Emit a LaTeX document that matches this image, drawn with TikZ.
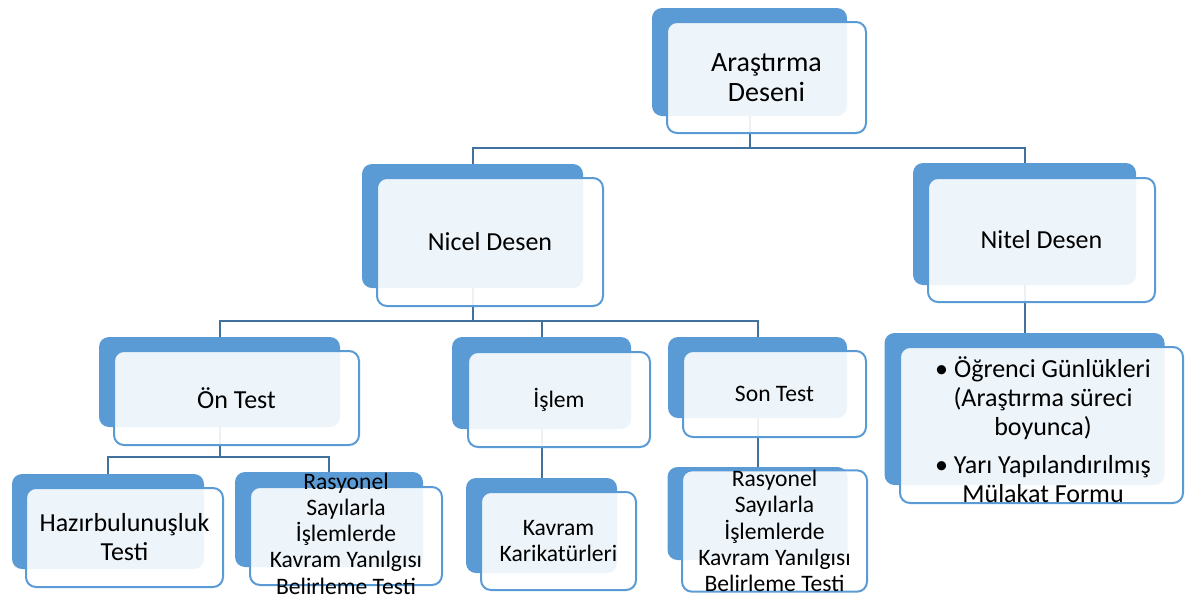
\documentclass[tikz,border=0pt]{standalone}
\usepackage{fontspec}
\setmainfont{Carlito}
\usetikzlibrary{backgrounds}
\definecolor{accent}{HTML}{5B9BD5}
\definecolor{connc}{HTML}{41719C}
\begin{document}
\begin{tikzpicture}[x=1pt,y=-1pt,
  backbox/.style={fill=accent, rounded corners=10pt, inner sep=0pt, outer sep=0pt},
  frontbox/.style={draw=accent, line width=2pt, fill=white, fill opacity=0.9, text opacity=1,
    rounded corners=10pt, inner sep=0pt, outer sep=0pt, align=center, text=black},
  conn/.style={draw=connc, line width=2pt},
  bigtxt/.style={font=\fontsize{28}{30.5}\selectfont},
  midtxt/.style={font=\fontsize{26}{29}\selectfont},
  smalltxt/.style={font=\fontsize{23.6}{26.2}\selectfont}]
\useasboundingbox (0,0) rectangle (1185,598);

% back boxes
\node[backbox, minimum width=195pt, minimum height=108pt] (Ab) at (749.5,62) {};
\node[backbox, minimum width=221pt, minimum height=124pt] (Nb) at (472.5,226) {};
\node[backbox, minimum width=223pt, minimum height=122pt] (Tb) at (1024.5,224) {};
\node[backbox, minimum width=241pt, minimum height=90pt] (Ob) at (219.5,382) {};
\node[backbox, minimum width=179pt, minimum height=92pt] (Ib) at (541.5,383) {};
\node[backbox, minimum width=179pt, minimum height=81pt] (Sb) at (757.5,377.5) {};
\node[backbox, minimum width=192pt, minimum height=95pt] (Hb) at (108,521.5) {};
\node[backbox, minimum width=188pt, minimum height=95pt] (R1b) at (329,519.5) {};
\node[backbox, minimum width=151pt, minimum height=95pt] (Kb) at (541.5,525.5) {};
\node[backbox, minimum width=180pt, minimum height=93pt] (R2b) at (757.5,513.5) {};
\node[backbox, minimum width=280pt, minimum height=152pt] (Lb) at (1024.5,409) {};

% connectors
\begin{scope}[on background layer]
\coordinate (bus1) at (0,148);
\coordinate (bus2) at (0,321);
\coordinate (bus3) at (0,457);
\draw[conn] (Ab.south) -- (Ab.south |- bus1) -| (Nb.north);
\draw[conn] (Ab.south |- bus1) -| (Tb.north);
\draw[conn] (Nb.south) -- (Nb.south |- bus2) -| (Ob.north);
\draw[conn] (Nb.south |- bus2) -| (Ib.north);
\draw[conn] (Nb.south |- bus2) -| (Sb.north);
\draw[conn] (Ob.south) -- (Ob.south |- bus3) -| (Hb.north);
\draw[conn] (Ob.south |- bus3) -| (R1b.north);
\draw[conn] (Ib.south) -- (Kb.north);
\draw[conn] (Sb.south) -- (R2b.north);
\draw[conn] (Tb.south) -- (Lb.north);
\end{scope}

% front boxes with text
\node[frontbox, bigtxt, minimum width=199pt, minimum height=111pt] (Af) at (766.5,77.5) {Araştırma\\Deseni};
\node[frontbox, midtxt, minimum width=226pt, minimum height=128pt] (Nf) at (490,242) {Nicel Desen};
\node[frontbox, midtxt, minimum width=227pt, minimum height=124pt] (Tf) at (1041.5,240) {Nitel Desen};
\node[frontbox, midtxt, minimum width=245pt, minimum height=94pt] (Of) at (236.5,398) {Ön Test};
\node[frontbox, smalltxt, minimum width=182pt, minimum height=95pt] (If) at (559,399.5) {İşlem};
\node[frontbox, smalltxt, minimum width=183pt, minimum height=86pt] (Sf) at (774.5,394) {Son Test};
\node[frontbox, midtxt, minimum width=197pt, minimum height=99pt] (Hf) at (124.5,537.5) {Hazırbulunuşluk\\Testi};
\node[frontbox, minimum width=192pt, minimum height=98pt] (R1f) at (346,536) {};
\node[smalltxt, align=center, inner sep=0pt] (R1t) at (346,533.5) {Rasyonel\\Sayılarla\\İşlemlerde\\Kavram Yanılgısı\\Belirleme Testi};
\node[frontbox, smalltxt, minimum width=155pt, minimum height=98pt] (Kf) at (558.5,541) {Kavram\\Karikatürleri};
\node[frontbox, smalltxt, minimum width=185pt, minimum height=98pt] (R2f) at (774.5,531) {Rasyonel\\Sayılarla\\İşlemlerde\\Kavram Yanılgısı\\Belirleme Testi};
\node[frontbox, minimum width=283pt, minimum height=156pt] (Lf) at (1041.5,425) {};
\node[midtxt, align=center, inner sep=0pt] (Lt) at (1043,430) {• Öğrenci Günlükleri\\(Araştırma süreci\\boyunca)\\[9pt]• Yarı Yapılandırılmış\\Mülakat Formu};
\end{tikzpicture}
\end{document}
